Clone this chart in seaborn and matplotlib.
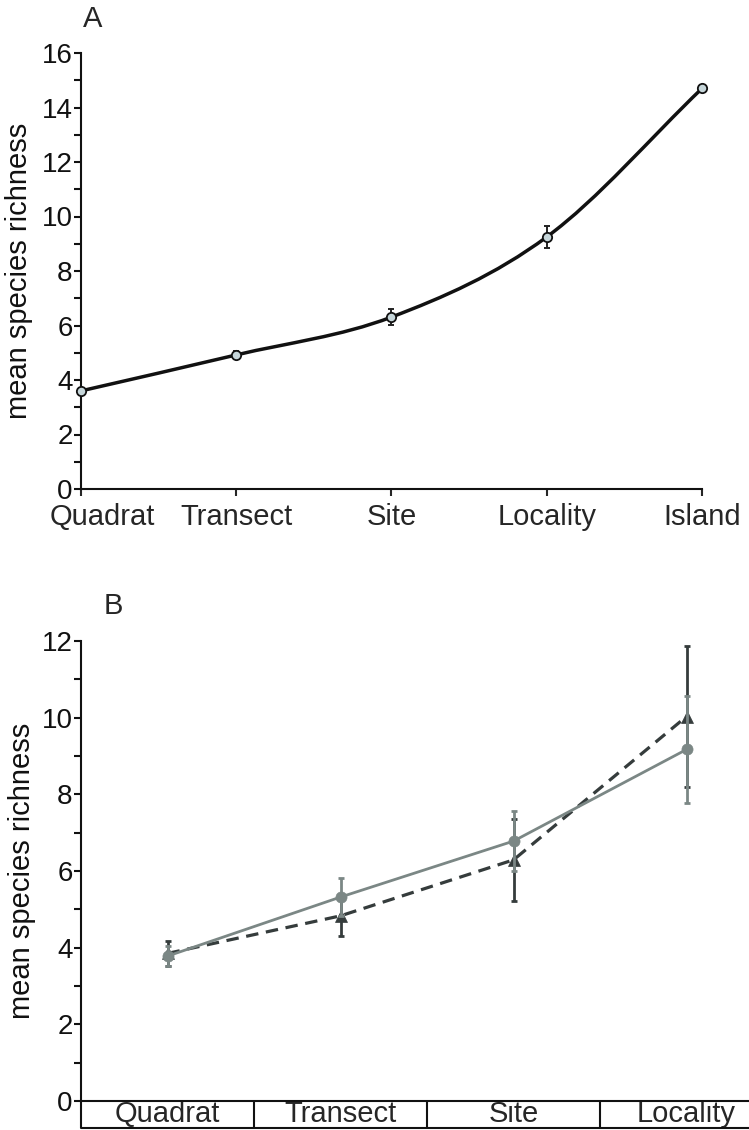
import numpy as np
import pandas as pd
import matplotlib
matplotlib.use("Agg")
import matplotlib.pyplot as plt
from matplotlib.path import Path
from matplotlib.patches import PathPatch
from matplotlib.ticker import MultipleLocator
import matplotlib.transforms as mtransforms
import seaborn as sns

# ---------------- data ----------------
scales_a = ["Quadrat", "Transect", "Site", "Locality", "Island"]
richness_a = [3.6, 4.92, 6.31, 9.25, 14.7]
err_a = [0.1, 0.15, 0.3, 0.4, 0.0]

scales_b = ["Quadrat", "Transect", "Site", "Locality"]
grey_mean = [3.78, 5.32, 6.78, 9.17]
grey_err = [0.27, 0.5, 0.78, 1.4]
dark_mean = [3.85, 4.83, 6.29, 10.03]
dark_err = [0.33, 0.53, 1.06, 1.83]

ylabel = "mean species richness"

# ---------------- style ----------------
sns.set_style("ticks")
plt.rcParams["font.family"] = ["Liberation Sans", "DejaVu Sans"]
plt.rcParams["axes.linewidth"] = 1.5

W, H = 749, 1130
fig = plt.figure(figsize=(W / 100, H / 100), dpi=100)

def px_axes(left, right, top, bottom):
    return fig.add_axes([left / W, 1 - bottom / H, (right - left) / W, (bottom - top) / H])

axA = px_axes(81, 702, 53, 489)
axB = px_axes(81, 773, 641, 1101)

BLACK = "#111111"
GREY = "#7b8785"
DARK = "#353c3c"

# ---------------- panel A ----------------
xa = np.arange(len(scales_a), dtype=float)
ya = np.array(richness_a)
pts = np.column_stack([xa, ya])
n = len(pts)
tang = np.zeros_like(pts)
for i in range(n):
    if i == 0:
        tang[i] = pts[1] - pts[0]
    elif i == n - 1:
        tang[i] = pts[-1] - pts[-2]
    else:
        tang[i] = (pts[i + 1] - pts[i - 1]) / 2
verts = [tuple(pts[0])]
codes = [Path.MOVETO]
for i in range(n - 1):
    c1 = pts[i] + tang[i] / 3
    c2 = pts[i + 1] - tang[i + 1] / 3
    verts += [tuple(c1), tuple(c2), tuple(pts[i + 1])]
    codes += [Path.CURVE4] * 3
axA.add_patch(PathPatch(Path(verts, codes), facecolor="none", edgecolor=BLACK,
                        lw=2.5, zorder=2, capstyle="round"))

axA.errorbar(xa, ya, yerr=err_a, fmt="none", ecolor="#222222", elinewidth=1.4,
             capsize=2.5, capthick=1.4, zorder=3, clip_on=False)
sns.scatterplot(x=xa, y=ya, ax=axA, s=45, color="#c6d6da", edgecolor=BLACK,
                linewidth=1.3, zorder=4, clip_on=False, legend=False)

axA.set_xlim(0, 4)
axA.set_ylim(0, 16)
axA.set_xticks(xa)
axA.set_xticklabels(scales_a)
axA.yaxis.set_major_locator(MultipleLocator(2))
axA.yaxis.set_minor_locator(MultipleLocator(1))
axA.set_ylabel(ylabel, fontsize=21)
axA.yaxis.set_label_coords(-(81 - 33) / (702 - 81), 0.5)

# ---------------- panel B ----------------
xb = np.arange(len(scales_b), dtype=float)

axB.errorbar(xb, dark_mean, yerr=dark_err, fmt="none", ecolor=DARK, elinewidth=2,
             capsize=2, capthick=2, zorder=2)
sns.lineplot(x=xb, y=dark_mean, ax=axB, color=DARK, lw=2.3, marker="^",
             markersize=8.5, markeredgecolor=DARK, markeredgewidth=0.5,
             linestyle=(0, (3.9, 2.4)), errorbar=None, zorder=3)

axB.errorbar(xb, grey_mean, yerr=grey_err, fmt="none", ecolor=GREY, elinewidth=2,
             capsize=2, capthick=2, zorder=4)
sns.lineplot(x=xb, y=grey_mean, ax=axB, color=GREY, lw=2, marker="o",
             markersize=8, markeredgecolor=GREY, markeredgewidth=0.5,
             errorbar=None, zorder=5)

axB.set_xlim(-0.5, 3.5)
axB.set_ylim(0, 12)
axB.set_xticks(xb)
axB.set_xticklabels(scales_b)
axB.yaxis.set_major_locator(MultipleLocator(2))
axB.yaxis.set_minor_locator(MultipleLocator(1))
axB.set_ylabel(ylabel, fontsize=21)
axB.yaxis.set_label_coords(-(81 - 36) / (773 - 81), 0.5)
axB.tick_params(axis="x", which="both", length=0, pad=-1)

# category boxes under panel B
trans = mtransforms.blended_transform_factory(axB.transData, axB.transAxes)
box_bottom = -(1128 - 1101) / (1101 - 641)
for xv in np.arange(-0.5, len(scales_b), 1.0):
    axB.plot([xv, xv], [0, box_bottom], transform=trans, color=BLACK, lw=1.5,
             clip_on=False, solid_capstyle="butt")
axB.plot([-0.5, 3.5], [box_bottom, box_bottom], transform=trans, color=BLACK,
         lw=1.5, clip_on=False)

# ---------------- common styling ----------------
for ax in (axA, axB):
    sns.despine(ax=ax)
    for sp in ("left", "bottom"):
        ax.spines[sp].set_color(BLACK)
        ax.spines[sp].set_linewidth(1.5)
    ax.tick_params(axis="y", which="major", length=5, width=1.5, direction="out",
                   labelsize=20, pad=1, colors=BLACK)
    ax.tick_params(axis="y", which="minor", length=5, width=1.5, direction="out",
                   colors=BLACK)
    ax.tick_params(axis="x", labelsize=21)
    ax.yaxis.label.set_color(BLACK)

axA.tick_params(axis="x", which="major", length=5, width=1.5, direction="out", pad=5)

# shift the first category label of panel A to the right, as in the reference
first = axA.get_xticklabels()[0]
first.set_transform(first.get_transform() +
                    mtransforms.ScaledTranslation(0.21, 0, fig.dpi_scale_trans))

fig.text(83 / W, 1 - 19 / H, "A", fontsize=21, ha="left", va="center")
fig.text(104 / W, 1 - 606 / H, "B", fontsize=21, ha="left", va="center")

fig.savefig("out.png", dpi=100)
